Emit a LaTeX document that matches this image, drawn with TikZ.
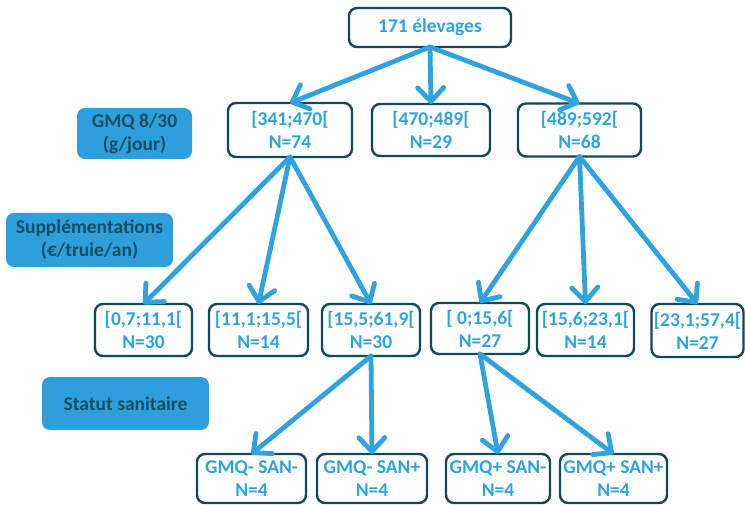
\documentclass[tikz,border=0pt]{standalone}
\usepackage{fontspec}
\setmainfont{Carlito}
\usetikzlibrary{arrows.meta}
\definecolor{lblue}{HTML}{2EA3E0}
\definecolor{dteal}{HTML}{12495A}
\definecolor{lfill}{HTML}{2E9FDD}
\definecolor{ltext}{HTML}{124F63}
\tikzset{
  box/.style={draw=dteal, line width=2.4pt, rounded corners=8pt, fill=white,
    text=lblue, font=\bfseries\fontsize{19.5}{23}\selectfont, align=center,
    inner sep=0pt, outer sep=0pt},
  lab/.style={fill=lfill, rounded corners=8pt, text=ltext,
    font=\bfseries\fontsize{19.5}{23}\selectfont, align=center, inner sep=0pt},
  arr/.style={draw=lblue, line width=4.8pt, line cap=round,
    -{Straight Barb[length=14pt,width=26pt,line cap=round,line join=round]}}
}
\begin{document}
\begin{tikzpicture}[x=1pt,y=-1pt]
\useasboundingbox (0,0) rectangle (745,505);
% root
\node[box, minimum width=162pt, minimum height=39pt] (root) at (430,27.5) {171 élevages};
% level 1
\node[box, minimum width=124pt, minimum height=54pt] (l1a) at (290,130) {[341;470[\\N=74};
\node[box, minimum width=118pt, minimum height=52pt] (l1b) at (431,130) {[470;489[\\N=29};
\node[box, minimum width=123pt, minimum height=53pt] (l1c) at (579.5,130) {[489;592[\\N=68};
% level 2
\node[box, minimum width=97pt, minimum height=52pt] (l2a) at (143.5,330) {[0,7;11,1[\\N=30};
\node[box, minimum width=99pt, minimum height=52pt] (l2b) at (258.5,330) {[11,1;15,5[\\N=14};
\node[box, minimum width=98pt, minimum height=52pt] (l2c) at (371,330) {[15,5;61,9[\\N=30};
\node[box, minimum width=98pt, minimum height=51pt] (l2d) at (480,328.5) {[ 0;15,6[\\N=27};
\node[box, minimum width=97pt, minimum height=52pt] (l2e) at (585.5,330) {[15,6;23,1[\\N=14};
\node[box, minimum width=92pt, minimum height=53pt] (l2f) at (697.5,330.5) {[23,1;57,4[\\N=27};
% level 3
\node[box, minimum width=109pt, minimum height=49pt] (l3a) at (251.5,478.5) {GMQ- SAN-\\N=4};
\node[box, minimum width=110pt, minimum height=49pt] (l3b) at (372,478.5) {GMQ- SAN+\\N=4};
\node[box, minimum width=104pt, minimum height=49pt] (l3c) at (498,478.5) {GMQ+ SAN-\\N=4};
\node[box, minimum width=107pt, minimum height=49pt] (l3d) at (613.5,478.5) {GMQ+ SAN+\\N=4};
% labels
\node[lab, minimum width=115pt, minimum height=51pt] (gmq) at (134.5,133.5) {GMQ 8/30\\(g/jour)};
\node[lab, minimum width=167pt, minimum height=54pt] (sup) at (89.5,240) {Supplémentations\\(€/truie/an)};
\node[lab, minimum width=167pt, minimum height=53pt] (san) at (125.5,403.5) {Statut sanitaire};
% arrows
\draw[arr] (root.south) -- (l1a.north);
\draw[arr] (root.south) -- (l1b.north);
\draw[arr] (root.south) -- (l1c.north);
\draw[arr] (l1a.south) -- (l2a.north);
\draw[arr] (l1a.south) -- (l2b.north);
\draw[arr] (l1a.south) -- (l2c.north);
\draw[arr] (l1c.south) -- (l2d.north);
\draw[arr] (l1c.south) -- (l2e.north);
\draw[arr] (l1c.south) -- (l2f.north);
\draw[arr] (l2c.south) -- (l3a.north);
\draw[arr] (l2c.south) -- (l3b.north);
\draw[arr] (l2d.south) -- (l3c.north);
\draw[arr] (l2d.south) -- (l3d.north);
\end{tikzpicture}
\end{document}
